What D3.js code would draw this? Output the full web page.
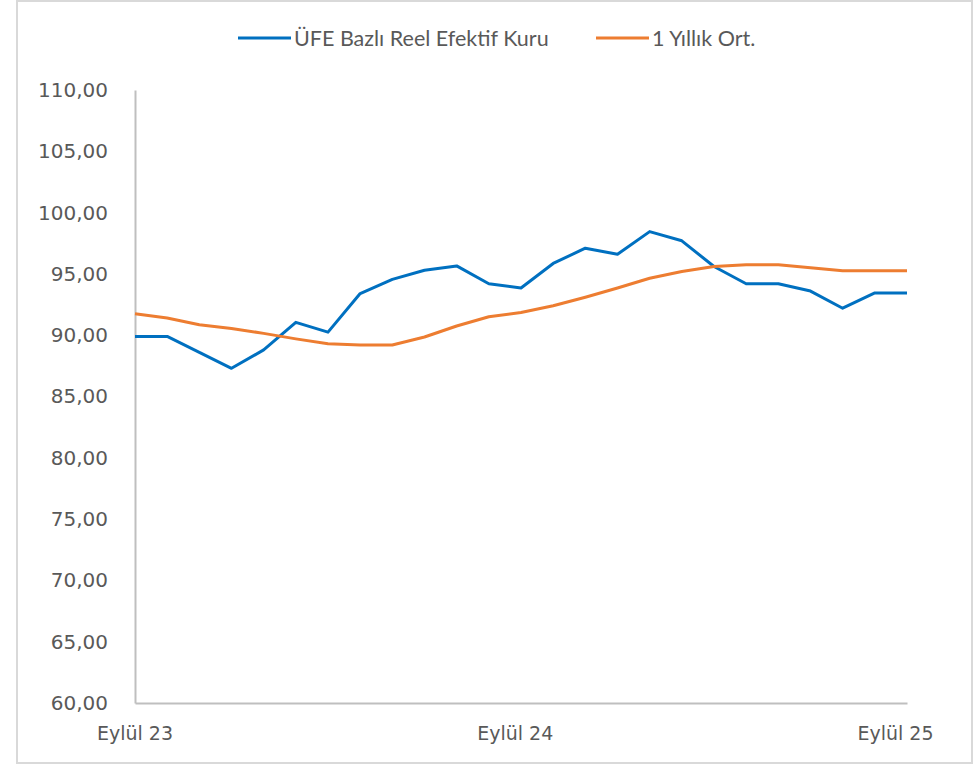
<!DOCTYPE html>
<meta charset="utf-8">
<script src="https://d3js.org/d3.v7.min.js"></script>
<style>
  body { margin: 0; background: #fff; }
  text { fill: #595959; }
  .axis text { font-family: "DejaVu Sans", sans-serif; }
  .legend text { font-family: Lato, "Open Sans", sans-serif; }
</style>
<div id="chart"></div>
<script>
  // Monthly categories, Eylül 23 .. Eylül 25
  const months = ["Eylül 23", "Ekim 23", "Kasım 23", "Aralık 23", "Ocak 24", "Şubat 24",
    "Mart 24", "Nisan 24", "Mayıs 24", "Haziran 24", "Temmuz 24", "Ağustos 24",
    "Eylül 24", "Ekim 24", "Kasım 24", "Aralık 24", "Ocak 25", "Şubat 25",
    "Mart 25", "Nisan 25", "Mayıs 25", "Haziran 25", "Temmuz 25", "Ağustos 25", "Eylül 25"];

  const reer = [89.9, 89.9, 88.6, 87.3, 88.8, 91.05, 90.25, 93.4, 94.55, 95.3, 95.65, 94.2,
    93.85, 95.85, 97.1, 96.6, 98.45, 97.7, 95.6, 94.2, 94.2, 93.6, 92.2, 93.45, 93.45];
  const avg1y = [91.75, 91.4, 90.85, 90.55, 90.15, 89.7, 89.3, 89.2, 89.2, 89.85, 90.75, 91.5,
    91.85, 92.4, 93.1, 93.85, 94.65, 95.2, 95.6, 95.75, 95.75, 95.5, 95.25, 95.25, 95.25];

  const seriesNames = ["ÜFE Bazlı Reel Efektif Kuru", "1 Yıllık Ort."];
  const colors = ["#0070C0", "#ED7D31"];
  const yTicks = [60, 65, 70, 75, 80, 85, 90, 95, 100, 105, 110];
  const xTickLabels = ["Eylül 23", "Eylül 24", "Eylül 25"];

  const width = 975, height = 768;

  const svg = d3.select("#chart").append("svg")
    .attr("width", width)
    .attr("height", height);

  // outer frame
  svg.append("rect")
    .attr("x", 17).attr("y", 1)
    .attr("width", 955).attr("height", 762)
    .attr("fill", "#fff")
    .attr("stroke", "#d9d9d9")
    .attr("stroke-width", 2);

  const x = d3.scalePoint().domain(months).range([135, 907]);
  const y = d3.scaleLinear().domain([60, 110]).range([703, 90]);
  // Excel places the category labels slightly tighter than the points
  const xLab = d3.scalePoint().domain(xTickLabels).range([134.5, 895]);

  const fmt = d3.formatLocale({decimal: ",", thousands: ".", grouping: [3], currency: ["", ""]}).format(".2f");

  // y axis
  const yAxis = svg.append("g")
    .attr("class", "axis")
    .attr("transform", "translate(135,0)")
    .call(d3.axisLeft(y).tickValues(yTicks).tickFormat(fmt).tickSize(0).tickPadding(27));
  yAxis.select(".domain").attr("stroke", "#bfbfbf").attr("stroke-width", 2);
  yAxis.selectAll("text").style("font-size", "20px").attr("fill", "#595959");

  // x axis line
  const xAxis = svg.append("g")
    .attr("class", "axis")
    .attr("transform", "translate(0,703)")
    .call(d3.axisBottom(x).tickValues([]).tickSize(0));
  xAxis.select(".domain").attr("stroke", "#bfbfbf").attr("stroke-width", 2);

  // x labels
  const xLabels = svg.append("g")
    .attr("class", "axis")
    .attr("transform", "translate(0,703)")
    .call(d3.axisBottom(xLab).tickSize(0).tickPadding(24));
  xLabels.select(".domain").remove();
  xLabels.selectAll("text").style("font-size", "19px").attr("fill", "#595959");

  // lines
  const line = d3.line()
    .x((d, i) => x(months[i]))
    .y(d => y(d));

  [reer, avg1y].forEach((s, k) => {
    svg.append("path")
      .datum(s)
      .attr("fill", "none")
      .attr("stroke", colors[k])
      .attr("stroke-width", 3)
      .attr("stroke-linejoin", "round")
      .attr("d", line);
  });

  // legend
  const legendX = [238, 596];
  seriesNames.forEach((name, k) => {
    const g = svg.append("g").attr("class", "legend").attr("transform", `translate(${legendX[k]},38)`);
    g.append("line")
      .attr("x1", 0).attr("x2", 53)
      .attr("stroke", colors[k])
      .attr("stroke-width", 3);
    g.append("text")
      .attr("x", 56)
      .attr("dy", "0.35em")
      .style("font-size", "21.5px")
      .text(name);
  });
</script>
